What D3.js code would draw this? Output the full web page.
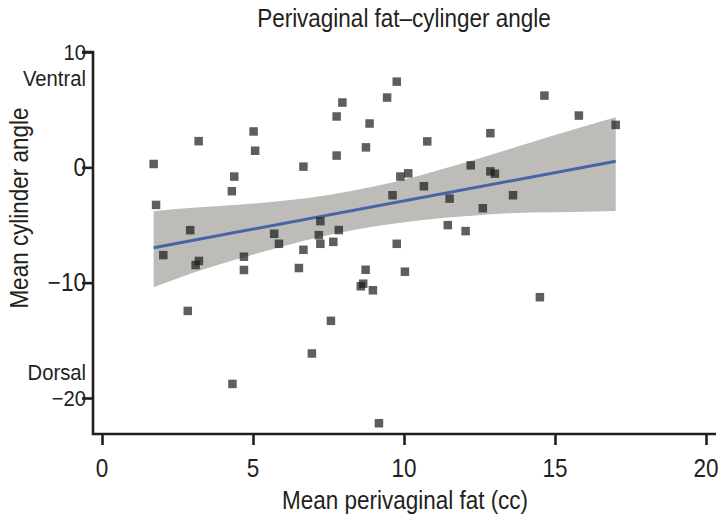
<!DOCTYPE html>
<html>
<head>
<meta charset="utf-8">
<script src="https://cdn.jsdelivr.net/npm/d3@7"></script>
<style>
  html, body { margin: 0; padding: 0; background: #fff; }
  svg { display: block; }
  text { font-family: "Liberation Sans Narrow", "Arial Narrow", "Liberation Sans", sans-serif; fill: #231f20; }
</style>
</head>
<body>
<svg id="chart" width="727" height="528"></svg>
<script>
// ---- data ----
const fatCC = [1.71, 1.79, 2.03, 2.84, 2.92, 3.10, 3.21, 3.20, 4.30, 4.38, 4.32, 4.70, 4.70, 5.02, 5.07,
  5.70, 5.86, 6.52, 6.67, 6.67, 6.95, 7.18, 7.23, 7.23, 7.58, 7.66, 7.77, 7.77, 7.84, 7.96,
  8.57, 8.65, 8.73, 8.74, 8.86, 8.97, 9.17, 9.44, 9.62, 9.76, 9.76, 9.88, 10.03, 10.14, 10.66,
  10.77, 11.45, 11.51, 12.04, 12.21, 12.61, 12.86, 12.86, 13.01, 13.61, 14.50, 14.65, 15.79, 17.01];
const cylAngle = [0.29, -3.26, -7.61, -12.45, -5.45, -8.47, -8.12, 2.27, -2.07, -0.80, -18.78, -7.75, -8.90, 3.11, 1.44,
  -5.76, -6.63, -8.73, 0.06, -7.15, -16.14, -5.88, -4.67, -6.63, -13.31, -6.46, 4.41, 1.02, -5.44, 5.62,
  -10.31, -10.09, -8.88, 1.73, 3.80, -10.66, -22.19, 6.05, -2.42, 7.43, -6.63, -0.80, -9.05, -0.52, -1.64,
  2.25, -5.01, -2.71, -5.53, 0.17, -3.55, 2.96, -0.35, -0.55, -2.42, -11.26, 6.22, 4.49, 3.68];

// fitted line and its confidence band
const fitX = [1.71, 17.01];
const fitY = [-6.97, 0.52];
const bandX = [1.71, 3, 4.5, 6, 7.5, 9, 10.5, 12, 13.5, 15, 17.01];
const bandLower = [-10.4, -9.17, -7.95, -6.84, -5.87, -5.13, -4.60, -4.25, -3.98, -3.90, -3.78];
const bandUpper = [-3.8, -3.51, -3.25, -2.90, -2.39, -1.67, -0.72, 0.39, 1.60, 2.80, 4.35];

const xTicks = [0, 5, 10, 15, 20];
const yTicks = [10, 0, -10, -20];
const yTickLabels = { "10": ["10", "Ventral"], "0": ["0"], "-10": ["\u221210"], "-20": ["Dorsal", "\u221220"] };

const titleText = "Perivaginal fat\u2013cylinger angle";
const xTitle = "Mean perivaginal fat (cc)";
const yTitle = "Mean cylinder angle";

// ---- drawing ----
const svg = d3.select("#chart");
const x = d3.scaleLinear().domain([0, 20]).range([102, 706]);
const y = d3.scaleLinear().domain([-20, 10]).range([398, 52]);

const axisLeftX = 93, axisBottomY = 434, axisRightX = 716;
const FS = 25;
const SX = 0.9; // horizontal condensation to mimic the condensed face

function label(px, py, str, anchor, rot, dy, fs) {
  const t = svg.append("text")
    .attr("transform", `translate(${px},${py})${rot ? " rotate(" + rot + ")" : ""} scale(${SX},1)`)
    .attr("text-anchor", anchor)
    .attr("font-size", fs || FS)
    .text(str);
  if (dy) t.attr("dy", dy);
  return t;
}

// band
const bandData = bandX.map((d, i) => ({ x: d, lo: bandLower[i], hi: bandUpper[i] }));
svg.append("path")
  .datum(bandData)
  .attr("fill", "#bdbcb8")
  .attr("d", d3.area().x(d => x(d.x)).y0(d => y(d.lo)).y1(d => y(d.hi)).curve(d3.curveMonotoneX));

// fit line
svg.append("path")
  .datum(fitX.map((d, i) => [d, fitY[i]]))
  .attr("fill", "none")
  .attr("stroke", "#4565a6")
  .attr("stroke-width", 3)
  .attr("d", d3.line().x(d => x(d[0])).y(d => y(d[1])));

// points
const S = 8.5;
svg.append("g").selectAll("rect")
  .data(fatCC.map((d, i) => [d, cylAngle[i]]))
  .join("rect")
  .attr("x", d => x(d[0]) - S / 2)
  .attr("y", d => y(d[1]) - S / 2)
  .attr("width", S).attr("height", S)
  .attr("fill", "#1a1a1a")
  .attr("fill-opacity", 0.7);

// axes
const xAxis = d3.axisBottom(x).tickValues(xTicks).tickSize(11).tickFormat("");
const gx = svg.append("g").attr("transform", `translate(0,${axisBottomY})`).call(xAxis);
gx.select(".domain").remove();
gx.selectAll(".tick line").attr("stroke", "#231f20").attr("stroke-width", 2.6);

const yAxis = d3.axisLeft(y).tickValues(yTicks).tickSize(11).tickFormat("");
const gy = svg.append("g").attr("transform", `translate(${axisLeftX},0)`).call(yAxis);
gy.select(".domain").remove();
gy.selectAll(".tick line").attr("stroke", "#231f20").attr("stroke-width", 2.6);

svg.append("path")
  .attr("fill", "none")
  .attr("stroke", "#231f20")
  .attr("stroke-width", 2.6)
  .attr("d", `M${axisLeftX - 11},${y(10)}H${axisLeftX}V${axisBottomY}H${axisRightX}`);

// tick labels
xTicks.forEach(t => label(x(t), 477, String(t), "middle"));

yTicks.forEach(t => {
  const lines = yTickLabels[String(t)];
  const ty = y(t);
  const fs = lines.length === 1 ? FS : 22.5;
  lines.forEach((s, i) => {
    let off;
    if (lines.length === 1) off = 0;
    else if (t > 0) off = i * 26;            // "10" then "Ventral" below
    else off = (i - 1) * 26;                  // "Dorsal" above "-20"
    label(86, ty + off, s, "end", 0, "0.35em", fs);
  });
});

// titles
label(404, 27, titleText, "middle");
label(405, 509, xTitle, "middle");
label(28, 208, yTitle, "middle", -90);
</script>
</body>
</html>
